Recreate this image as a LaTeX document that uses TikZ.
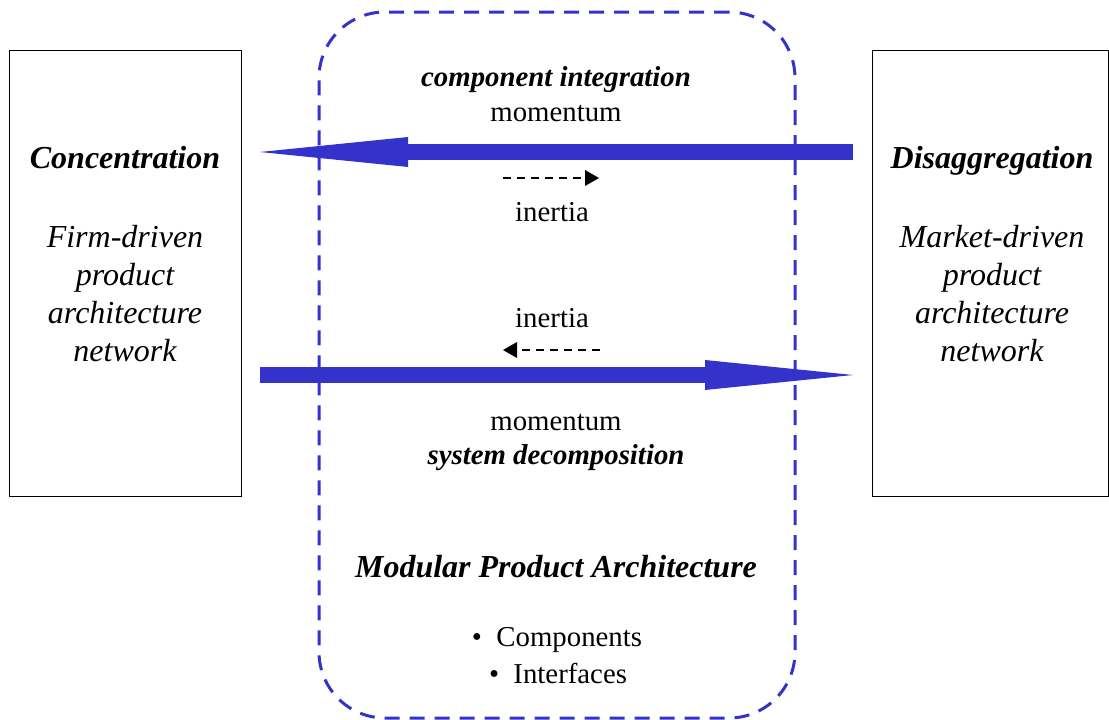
\documentclass[tikz,border=0pt]{standalone}
\usepackage{fontspec}
\setmainfont{Liberation Serif}
\definecolor{mblue}{RGB}{51,51,204}
\usetikzlibrary{arrows.meta,positioning}

\begin{document}
\begin{tikzpicture}[x=1pt,y=-1pt,
  side/.style={draw,line width=1pt,minimum height=446pt,inner sep=0pt},
  big/.style={font=\fontsize{32}{38}\selectfont,inner sep=0pt,align=center},
  lbl/.style={font=\fontsize{28.8}{34}\selectfont,inner sep=0pt},
  flow/.style={draw=mblue,line width=16pt,-{Triangle[length=148pt,width=30pt,line width=0pt,fill=mblue]}},
  drift/.style={line width=2.6pt,dash pattern=on 8pt off 6pt,-{Triangle[length=14pt,width=16pt,line width=0pt]}}]
\useasboundingbox (0,0) rectangle (1109,720);
\node[side,minimum width=232pt] (conc) at (125,273) {};
\node[side,minimum width=236pt] (disag) at (990,273) {};
\node[draw=mblue,line width=3pt,dash pattern=on 15pt off 10pt,rounded corners=66pt,
   minimum width=476pt,minimum height=706pt] (module) at (557,365) {};
\node[big,font=\fontsize{32}{38}\selectfont\bfseries\itshape] (concT) at (125,158) {Concentration};
\node[big,font=\fontsize{32}{38}\selectfont\itshape] (concB) at (125,294)
   {Firm-driven\\product\\architecture\\network};
\node[big,font=\fontsize{32}{38}\selectfont\bfseries\itshape] (disagT) at (992,161) {Disaggregation};
\node[big,font=\fontsize{32}{38}\selectfont\itshape] (disagB) at (992,294)
   {Market-driven\\product\\architecture\\network};
\node[lbl,font=\fontsize{28.8}{34}\selectfont\bfseries\itshape] (integ) at (556,80) {component integration};
\node[lbl] (momA) at (556,114) {momentum};
\node[lbl] (inA) at (552,212) {inertia};
\node[lbl] (inB) at (552,318) {inertia};
\node[lbl] (momB) at (556,423) {momentum};
\node[lbl,font=\fontsize{28.8}{34}\selectfont\bfseries\itshape] (decomp) at (556,458) {system decomposition};
\node[big,font=\fontsize{32}{38}\selectfont\bfseries\itshape] (mpa) at (556,567) {Modular Product Architecture};
\node[lbl] (comp) at (557,640) {\textbullet\ \ Components};
\node[lbl] (intf) at (558,673) {\textbullet\ \ Interfaces};
\coordinate (topR) at (853,152);
\coordinate (topL) at (260,152);
\coordinate (botL) at (260,375);
\coordinate (botR) at (853,375);
\coordinate (dA1) at (503,178);
\coordinate (dA2) at (599,178);
\coordinate (dB1) at (600,350);
\coordinate (dB2) at (503,350);
\draw[flow] (topR) -- (topL);
\draw[flow] (botL) -- (botR);
\draw[drift] (dA1) -- (dA2);
\draw[drift] (dB1) -- (dB2);
\end{tikzpicture}
\end{document}
